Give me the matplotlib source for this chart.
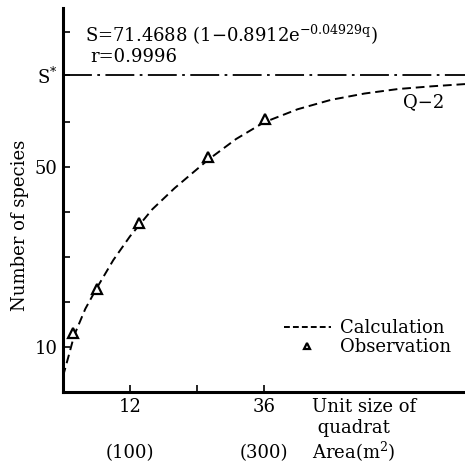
import numpy as np
import matplotlib
matplotlib.use("Agg")
import matplotlib.pyplot as plt
from matplotlib.lines import Line2D

# values
obs_q = [1.8, 6.1, 13.7, 25.9, 36.2]
obs_s = [13.1, 22.9, 37.6, 52.1, 60.7]

# calculated curve, points
calc_q = [0, 1, 2, 4, 6, 9, 12, 16, 20, 26, 31, 36, 42, 48, 54, 60, 66, 72]
calc_s = [3.5, 8.0, 12.6, 18.5, 23.0, 29.3, 34.6, 40.6, 45.3, 51.6, 56.2, 59.9, 62.8, 64.9, 66.3, 67.3, 67.9, 68.4]

s_star = 70.4
equation = "S=71.4688 (1\u22120.8912e$^{\\mathregular{-0.04929q}}$)"
r_text = "r=0.9996"

ytick_vals = [10, 20, 30, 40, 50, 60, s_star, 80]
ytick_labels = ["10", "", "", "", "50", "", "S$^{*}$", ""]
xtick_vals = [12, 24, 36]
xtick_labels = ["12\n\n(100)", "", "36\n\n(300)"]

plt.rcParams['font.family'] = ['DejaVu Serif']
plt.rcParams['mathtext.fontset'] = 'dejavuserif'
plt.rcParams['font.size'] = 13

fig = plt.figure(figsize=(4.65, 4.69), dpi=100)
ax = fig.add_axes([0.1355, 0.164, 0.8645, 0.819])

ax.plot(calc_q, calc_s, color='black', linewidth=1.4, linestyle=(0, (4.5, 2.5)))
ax.plot(obs_q, obs_s, linestyle='none', marker='^', markersize=6.5,
        markerfacecolor='white', markeredgecolor='black', markeredgewidth=1.6)
ax.axhline(s_star, color='black', linewidth=1.3, linestyle=(0, (16, 3, 1.5, 3)))

ax.set_xlim(0, 72)
ax.set_ylim(0, 85.3)
for side in ['top', 'right']:
    ax.spines[side].set_visible(False)
for side in ['left', 'bottom']:
    ax.spines[side].set_linewidth(2.2)

ax.set_yticks(ytick_vals)
ax.set_yticklabels(ytick_labels)
ax.set_xticks(xtick_vals)
ax.set_xticklabels(xtick_labels, linespacing=1.36)
ax.tick_params(direction='in', length=5, width=1.2, pad=4)

ax.set_ylabel("Number of species", fontsize=13)
ax.yaxis.set_label_coords(-0.085, 0.435)

ax.text(3.9, 79.3, equation, ha='left', va='center', fontsize=13)
ax.text(4.8, 74.4, r_text, ha='left', va='center', fontsize=13)
ax.text(64.5, 64.4, "Q\u22122", ha='center', va='center', fontsize=13)

ax.annotate("Unit size of\n quadrat\nArea(m$^2$)", xy=(44.6, -0.016),
            xycoords=('data', 'axes fraction'), ha='left', va='top',
            fontsize=13, linespacing=1.17)

handles = [Line2D([], [], color='black', linewidth=1.4, linestyle=(0, (3, 1.6))),
           Line2D([], [], linestyle='none', marker='^', markersize=5,
                  markerfacecolor='white', markeredgecolor='black', markeredgewidth=1.6)]
ax.legend(handles, ["Calculation", "Observation"], loc='lower right',
          bbox_to_anchor=(1.005, 0.052), frameon=False, handlelength=2.6,
          handletextpad=0.5, labelspacing=0.05, fontsize=13)

plt.savefig("out.png", dpi=100)
